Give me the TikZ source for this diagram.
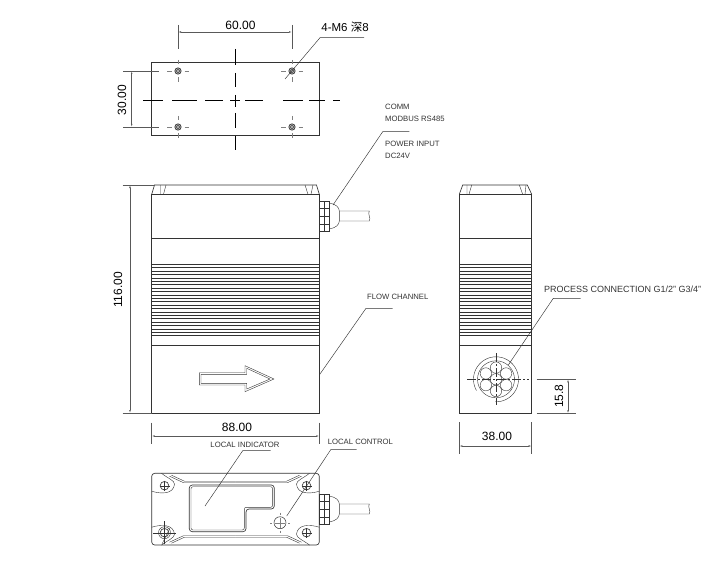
\documentclass[tikz,border=0pt]{standalone}
\usepackage{fontspec}
\setmainfont{Liberation Sans}
\newfontfamily\cjkfont{Noto Sans CJK SC}
\usetikzlibrary{arrows.meta,positioning,calc}
\definecolor{inkline}{gray}{0.2}
\definecolor{dimline}{gray}{0.35}

\begin{document}
\begin{tikzpicture}[
    x=1pt, y=-1pt,
    body/.style={draw=inkline, line width=0.65pt},
    thin line/.style={draw=inkline, line width=0.4pt},
    centreline/.style={draw=black, line width=0.55pt},
    holecross/.style={draw=gray, line width=0.6pt},
    leader/.style={draw=inkline, line width=0.45pt},
    dimension/.style={draw=dimline, line width=0.55pt, {Latex[length=3pt,width=1.6pt]}-{Latex[length=3pt,width=1.6pt]}},
    extension/.style={draw=dimline, line width=0.55pt},
    dimtext/.style={inner sep=0pt, font=\fontsize{12}{12}\selectfont},
    cadtext/.style={inner sep=0pt, text=black!80, font=\fontsize{7.7}{9}\selectfont},
    hole/.pic={
        \foreach \a/\b in {-11/-6.5,-3/3,6.5/11} {
            \draw[holecross] (\a,0) -- (\b,0);
            \draw[holecross] (0,\a) -- (0,\b);
        }
        \draw[body, fill=gray!60] (0,0) circle (3.2pt);
        \draw[thin line] (0,0) circle (1.8pt);
    },
    gland/.pic={
        \draw[thin line] (0,-15) rectangle (4.5,15);
        \draw[thin line] (4.5,-15) rectangle (10,15);
        \draw[thin line] (0,-8) -- (10,-8) (0,0) -- (10,0) (0,8) -- (10,8);
        \draw[thin line] (10,-13) .. controls (16,-12) and (20,-9) .. (20,-5) -- (20,5)
            .. controls (20,9) and (16,12) .. (10,13);
        \draw[thin line] (20,-5) -- (50,-5) .. controls (48,-2) and (52,2) .. (50,5) -- (20,5);
    }
]
\useasboundingbox (0,0) rectangle (712,575);

% Top view
\draw[body] (151.7,62.7) rectangle (319,135);
\foreach \a/\b in {143/163,172/197,205/223,230/240,245/263,283/303,309/325,333/340}
    \draw[centreline] (\a,100) -- (\b,100);
\foreach \a/\b in {49/65,73/87,95/107,113/128,136/150}
    \draw[centreline] (235,\a) -- (235,\b);
\foreach \hx/\hy in {178/71,292/71,178/127,292/127}
    \pic at (\hx,\hy) {hole};

% Top view dimensions
\coordinate (width_l) at (178,32);
\coordinate (width_r) at (292,32);
\draw[extension] (178,25) -- (178,49) (292,25) -- (292,49);
\draw[dimension] (width_l) -- (width_r);
\node[dimtext] (width_txt) at (240.5,25) {60.00};
\coordinate (depth_t) at (131.7,71);
\coordinate (depth_b) at (131.7,127);
\draw[extension] (123,71) -- (159,71) (123,127) -- (159,127);
\draw[dimension] (depth_t) -- (depth_b);
\node[dimtext, rotate=90] (depth_txt) at (122,100) {30.00};

% Thread callout
\node[dimtext, font=\fontsize{11.5}{12}\selectfont] (thread_txt) at (345,27) {4-M6 {\cjkfont 深}8};
\coordinate (thread_end) at (285,79);
\coordinate (thread_knee) at (320,37.7);
\draw[leader] (thread_end) -- (thread_knee) -- (364,37.7);

% Front view
\draw[body] (151.7,194.3) rectangle (319.3,413);
\draw[body] (151.7,194.3) -- (154.5,185) -- (316.5,185) -- (319.3,194.3);
\draw[thin line] (160.7,185) -- (160.7,194.3) (166,185) -- (163.5,194.3);
\draw[thin line] (305,185) -- (308,194.3) (313,185) -- (311,194.3);
\draw[body] (151.7,238.3) -- (319.3,238.3);
\draw[body] (151.7,345.7) -- (319.3,345.7);

% Side view
\draw[body] (459.3,194.3) rectangle (531.7,413.3);
\draw[body] (459.3,194.3) -- (462.7,185) -- (527.3,185) -- (531.7,194.3);
\draw[thin line] (467,185) -- (467,194.3) (471.7,185) -- (469,194.3);
\draw[thin line] (519.3,185) -- (522.7,194.3) (526,185) -- (525,194.3);
\draw[body] (459.3,238.3) -- (531.7,238.3);
\draw[body] (459.3,345.7) -- (531.7,345.7);

% Fins on both views
\foreach \xa/\xb in {151.7/319.3,459.3/531.7}
    \foreach \i in {0,...,21}
        \draw[body] (\xa,264.3+\i*3.4) -- (\xb,264.3+\i*3.4);

% Cable gland
\pic at (319.3,216) {gland};

% Flow arrow
\draw[thin line] (199.3,372.7) -- (245,372.7) -- (245,365.7) -- (274,379) -- (245,391.7) -- (245,385) -- (199.3,385) -- cycle;
\draw[thin line] (201,374.4) -- (246.7,374.4) -- (246.7,368.3) -- (270,379) -- (246.7,389) -- (246.7,383.3) -- (201,383.3) -- cycle;

% Front view dimensions
\coordinate (height_t) at (130,185);
\coordinate (height_b) at (130,413);
\draw[extension] (122.7,185) -- (154.5,185) (122.7,413) -- (151.7,413);
\draw[dimension] (height_t) -- (height_b);
\node[dimtext, rotate=90] (height_txt) at (118,290) {116.00};
\coordinate (length_l) at (151.7,436);
\coordinate (length_r) at (319.3,436);
\draw[extension] (151.7,422.7) -- (151.7,444) (319.3,422.7) -- (319.3,444);
\draw[dimension] (length_l) -- (length_r);
\node[dimtext] (length_txt) at (237,427) {88.00};

% Process connection
\coordinate (port) at (496,379.3);
\draw[thin line] plot[domain=150:452, samples=70, smooth] ({496+22.5*cos(\x)},{379.3+22.5*sin(\x)});
\draw[thin line] (port) circle (18.5pt);
\draw[thin line] (port) circle (5.7pt);
\foreach \ang in {30,90,...,330}
    \draw[thin line] ($(port)+(\ang:11.7)$) circle (5.7pt);
\draw[thin line, dash pattern=on 9pt off 2pt on 2pt off 2pt] (467,379.3) -- (529,379.3);
\draw[thin line, dash pattern=on 9pt off 2pt on 2pt off 2pt] (496,353) -- (496,405);

% Side view dimensions
\coordinate (portheight_t) at (568,379.3);
\coordinate (portheight_b) at (568,413.3);
\draw[extension] (536.7,379.3) -- (576,379.3) (536.7,413.3) -- (576,413.3);
\draw[dimension] (portheight_t) -- (portheight_b);
\node[dimtext, rotate=90] (portheight_txt) at (559,396) {15.8};
\coordinate (sidewidth_l) at (459.3,446);
\coordinate (sidewidth_r) at (531.7,446);
\draw[extension] (459.3,422.3) -- (459.3,454) (531.7,422.3) -- (531.7,454);
\draw[dimension] (sidewidth_l) -- (sidewidth_r);
\node[dimtext] (sidewidth_txt) at (497,436.5) {38.00};

% Bottom view
\draw[body, rounded corners=3pt] (151.7,473.3) rectangle (319.3,545);
\foreach \sx/\sy in {1/1,-1/1,1/-1,-1/-1} {
    \begin{scope}[shift={(235.5,509.2)}, xscale=\sx, yscale=\sy]
        \draw[thin line] (-83.8,-18) .. controls (-74,-15) and (-62,-15) .. (-61,-25) .. controls (-61,-29) and (-68,-31) .. (-74,-35.9);
        \draw[thin line] (-66,-33) -- (-52,-26.5) -- (0,-26.5);
        \draw[thin line] (-64,-34) -- (-51,-28) -- (0,-28);
        \draw[body] (-71,-23.5) circle (4.3pt);
        \draw[thin line] (-71,-28.5) -- (-71,-18.5) (-76,-23.5) -- (-66,-23.5);
    \end{scope}
}
% Screw with centre lines, lower left
\draw[thin line] (164.5,532.7) circle (6pt);
\draw[thin line] (153,532.7) -- (176,532.7) (164.5,521) -- (164.5,544);
\draw[draw=inkline, line width=0.4pt] (162,544) -- (170,528);
\draw[body, rounded corners=3pt] (189.3,485) -- (274.3,485) -- (274.3,509) -- (246,509) -- (246,531.7) -- (189.3,531.7) -- cycle;
\draw[thin line, rounded corners=2pt] (191,486.7) -- (272.6,486.7) -- (272.6,507.3) -- (244.3,507.3) -- (244.3,530) -- (191,530) -- cycle;
\node[draw=inkline, line width=0.5pt, circle, minimum size=12pt, inner sep=0pt] (button) at (280,522.7) {};
\draw[holecross, line width=0.4pt] (270,522.7) -- (272,522.7) (275,522.7) -- (285,522.7) (288,522.7) -- (290,522.7);
\draw[holecross, line width=0.4pt] (280,512.7) -- (280,514.7) (280,517.7) -- (280,527.7) (280,530.7) -- (280,532.7);
\pic at (319.3,509) {gland};

% Labels and leaders
\node[cadtext, anchor=west] (comm_txt) at (385,107) {COMM};
\node[cadtext, anchor=west] (modbus_txt) at (385,119) {MODBUS RS485};
\node[cadtext, anchor=west] (power_txt) at (385,144) {POWER INPUT};
\node[cadtext, anchor=west] (dc_txt) at (385,156) {DC24V};
\coordinate (cable_end) at (333,205);
\coordinate (cable_knee) at (382.7,131.7);
\draw[leader] (cable_end) -- (cable_knee) -- (409.3,131.7);

\node[cadtext, anchor=west] (flow_txt) at (367,297) {FLOW CHANNEL};
\coordinate (flow_end) at (319.3,375);
\coordinate (flow_knee) at (366,308.3);
\draw[leader] (flow_end) -- (flow_knee) -- (392.7,308.3);

\node[cadtext, anchor=west, font=\fontsize{9}{9}\selectfont] (process_txt) at (544,289) {PROCESS CONNECTION G1/2" G3/4"};
\coordinate (process_end) at (508.3,365);
\coordinate (process_knee) at (553.3,298.3);
\draw[leader] (process_end) -- (process_knee) -- (580.7,298.3);

\node[cadtext] (indicator_txt) at (245,444.5) {LOCAL INDICATOR};
\coordinate (indicator_end) at (205,506);
\coordinate (indicator_knee) at (242.7,450.7);
\draw[leader] (indicator_end) -- (indicator_knee) -- (270.7,450.7);

\node[cadtext, anchor=west] (control_txt) at (327.7,442.3) {LOCAL CONTROL};
\coordinate (control_end) at (286.7,516);
\coordinate (control_knee) at (331,449.3);
\draw[leader] (control_end) -- (control_knee) -- (356.7,449.3);

\end{tikzpicture}
\end{document}
